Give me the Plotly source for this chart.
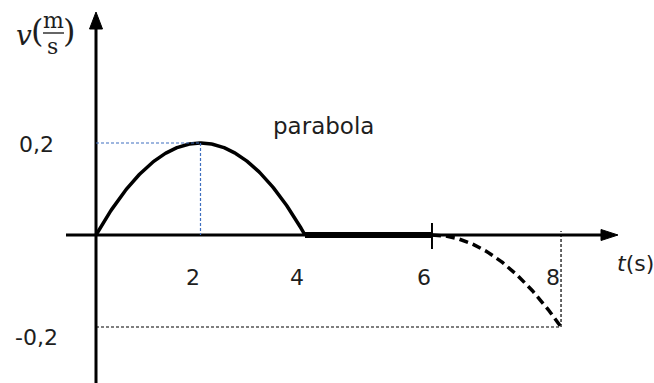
import numpy as np
import plotly.graph_objects as go

# Key points of the velocity-time sketch (t in s, v in m/s)
t_points = [0, 2, 4, 6, 8]
v_points = [0.0, 0.2, 0.0, 0.0, -0.2]

# Axis labels
t_ticks = [2, 4, 6, 8]
t_tick_text = ["2", "4", "6", "8"]
v_ticks = [0.2, -0.2]
v_tick_text = ["0,2", "-0,2"]

# The sketch is not drawn to scale: later seconds are spaced a bit wider
stretch_t = [0, 4, 6, 8]
stretch_u = [0, 4, 6.43, 8.9]


def sx(t):
    return np.interp(t, stretch_t, stretch_u)


W, H = 654, 383
PX_X0, PX_PER_U = 96, 52.25      # origin column and pixels per horizontal unit
PX_Y0, PX_PER_V = 235, 460.0     # origin row and pixels per m/s


def ux(px):
    return (px - PX_X0) / PX_PER_U


def vy(py):
    return (PX_Y0 - py) / PX_PER_V


def paper_x(px):
    return px / W


def paper_y(py):
    return 1 - py / H


# Segment 0-4 s: parabola through the first three key points
coef = np.polyfit(t_points[0:3], v_points[0:3], 2)
t1 = np.linspace(t_points[0], t_points[2], 200)
v1 = np.polyval(coef, t1)

# Segment 4-6 s: at rest
t2 = np.array(t_points[2:4])
v2 = np.array(v_points[2:4])

# Segment 6-8 s: parabola with vertex at t=6 reaching the last key point
a = (v_points[4] - v_points[3]) / (t_points[4] - t_points[3]) ** 2
t3 = np.linspace(t_points[3], t_points[4], 120)
v3 = v_points[3] + a * (t3 - t_points[3]) ** 2

fig = go.Figure()
fig.add_trace(go.Scatter(x=sx(t1), y=v1, mode="lines",
                         line=dict(color="black", width=3.5), hoverinfo="skip"))
fig.add_trace(go.Scatter(x=sx(t2), y=v2, mode="lines",
                         line=dict(color="black", width=6), hoverinfo="skip"))
fig.add_trace(go.Scatter(x=sx(t3), y=v3, mode="lines",
                         line=dict(color="black", width=3.5, dash="9px,5px"),
                         hoverinfo="skip"))

shapes = []
# axes
shapes.append(dict(type="line", xref="x", yref="y", x0=0, x1=0,
                   y0=vy(H + 5), y1=vy(27), line=dict(color="black", width=3)))
shapes.append(dict(type="path", xref="x", yref="y", fillcolor="black",
                   line=dict(color="black", width=1),
                   path=f"M {0},{vy(12)} L {ux(PX_X0 - 6.5)},{vy(29)} "
                        f"L {ux(PX_X0 + 6.5)},{vy(29)} Z"))
shapes.append(dict(type="line", xref="x", yref="y", x0=ux(66), x1=ux(604),
                   y0=0, y1=0, line=dict(color="black", width=3)))
shapes.append(dict(type="path", xref="x", yref="y", fillcolor="black",
                   line=dict(color="black", width=1),
                   path=f"M {ux(618)},{0} L {ux(601)},{vy(PX_Y0 - 5.5)} "
                        f"L {ux(601)},{vy(PX_Y0 + 5.5)} Z"))
# tick mark at t = 6
shapes.append(dict(type="line", xref="x", yref="y", x0=sx(6), x1=sx(6),
                   y0=vy(223), y1=vy(249), line=dict(color="black", width=2)))

# guides to the maximum (blue) and to the final value (black)
t_peak, v_peak = t_points[1], v_points[1]
guide_blue = dict(color="#3f6fc0", width=1.2, dash="3px,2px")
shapes.append(dict(type="line", xref="x", yref="y", x0=0, x1=sx(t_peak),
                   y0=v_peak, y1=v_peak, line=guide_blue))
shapes.append(dict(type="line", xref="x", yref="y", x0=sx(t_peak), x1=sx(t_peak),
                   y0=v_peak, y1=0, line=guide_blue))
t_end, v_end = t_points[4], v_points[4]
guide_black = dict(color="black", width=1.2, dash="3px,2px")
shapes.append(dict(type="line", xref="x", yref="y", x0=0, x1=sx(t_end),
                   y0=v_end, y1=v_end, line=guide_black))
shapes.append(dict(type="line", xref="x", yref="y", x0=sx(t_end), x1=sx(t_end),
                   y0=v_end, y1=vy(231), line=guide_black))

# fraction bar of the unit m/s
shapes.append(dict(type="line", xref="paper", yref="paper",
                   x0=paper_x(43), x1=paper_x(64), y0=paper_y(33), y1=paper_y(33),
                   line=dict(color="#333", width=1.5)))

TXT = "#1e1e1e"
SANS = "DejaVu Sans"
SERIF = "DejaVu Serif"
ann = []
for t, lab in zip(t_ticks, t_tick_text):
    ann.append(dict(x=sx(t), y=0, xref="x", yref="y", text=lab, showarrow=False,
                    xanchor="center", yanchor="middle", xshift=-8, yshift=-42,
                    font=dict(family=SANS, size=22, color=TXT)))
for v, lab in zip(v_ticks, v_tick_text):
    ann.append(dict(x=paper_x(36), y=v, xref="paper", yref="y", text=lab,
                    showarrow=False, xanchor="center", yanchor="middle",
                    yshift=(-1 if v > 0 else -10),
                    font=dict(family=SANS, size=22, color=TXT)))

ann.append(dict(x=paper_x(323), y=paper_y(126), xref="paper", yref="paper",
                text="parabola", showarrow=False, xanchor="center", yanchor="middle",
                font=dict(family=SANS, size=23, color=TXT)))
ann.append(dict(x=paper_x(615), y=paper_y(263), xref="paper", yref="paper",
                text="<i>t</i>(s)", showarrow=False, xanchor="left", yanchor="middle",
                font=dict(family=SANS, size=22, color=TXT)))

# vertical axis title v(m/s) written as a fraction
ann.append(dict(x=paper_x(24), y=paper_y(35), xref="paper", yref="paper",
                text="<i>v</i>", showarrow=False, xanchor="center", yanchor="middle",
                font=dict(family=SERIF, size=28, color=TXT)))
ann.append(dict(x=paper_x(37), y=paper_y(31), xref="paper", yref="paper",
                text="(", showarrow=False, xanchor="center", yanchor="middle",
                font=dict(family=SERIF, size=32, color=TXT)))
ann.append(dict(x=paper_x(69), y=paper_y(31), xref="paper", yref="paper",
                text=")", showarrow=False, xanchor="center", yanchor="middle",
                font=dict(family=SERIF, size=32, color=TXT)))
ann.append(dict(x=paper_x(53.5), y=paper_y(20), xref="paper", yref="paper",
                text="m", showarrow=False, xanchor="center", yanchor="middle",
                font=dict(family=SERIF, size=22, color=TXT)))
ann.append(dict(x=paper_x(52.5), y=paper_y(46), xref="paper", yref="paper",
                text="s", showarrow=False, xanchor="center", yanchor="middle",
                font=dict(family=SERIF, size=22, color=TXT)))

fig.update_layout(
    width=W, height=H, margin=dict(l=0, r=0, t=0, b=0),
    paper_bgcolor="white", plot_bgcolor="white", showlegend=False,
    xaxis=dict(range=[ux(0), ux(W)], visible=False, fixedrange=True),
    yaxis=dict(range=[vy(H), vy(0)], visible=False, fixedrange=True),
    shapes=shapes, annotations=ann,
)

fig.write_html("out.html")
